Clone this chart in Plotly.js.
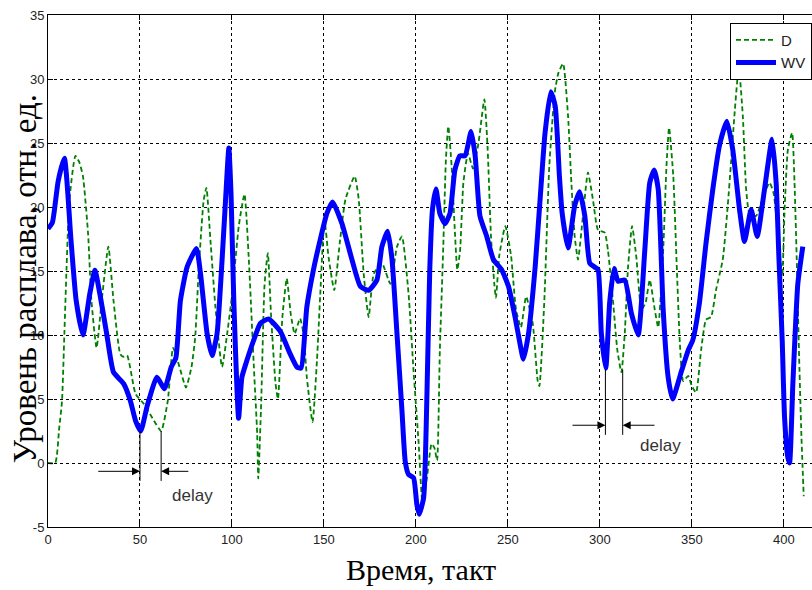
<!DOCTYPE html>
<html>
<head>
<meta charset="utf-8">
<script src="https://cdn.plot.ly/plotly-3.0.1.min.js"></script>
<style>html,body{margin:0;padding:0;background:#fff;}#chart{width:812px;height:590px;}</style>
</head>
<body>
<div id="chart"></div>
<script>
// Series WV (thick blue)
const wvX = [0,2.4,5.5,8.9,12.5,15.3,19,22.7,25.5,28.2,31.9,35.6,41.1,44.8,47.6,50.4,54,59.2,63.3,67,69.5,72,75.6,80.7,82.9,86.5,89.2,91.9,94.6,96.5,98.3,99.5,101,103.6,105.4,108.1,111.7,115.4,119.9,126.2,131.7,135.3,137.5,140.7,144.3,147.9,151.6,154.7,159.8,165.2,169.8,174.3,178.8,181.5,184.6,187,189.7,192.4,194.2,196,198.7,200.5,201.8,204.2,206,207.5,209,210.9,213,215.8,218.5,221.2,223.9,226.7,230,232.2,234.8,238.5,242.1,246.6,250.3,253.9,256.6,258.4,261.2,264.8,267.5,270.2,273.3,275.7,278,279.5,282.7,286.3,289,291.8,294.5,297.2,299,300.8,303.2,305.3,307.7,309.9,313.5,317.1,320.8,324.4,327.1,329.5,331.7,334.4,337.1,339.5,344.4,348,350.5,354.1,357.7,361.4,365,369,372.2,375.9,378.6,382.2,385.5,389.5,393.6,395.8,397.3,399.1,400.4,402.2,403.1,404.9,407.6,410.3];
const wvY = [18.3,18.8,22,23.8,17.4,12.7,10,13.2,15.05,13.2,10.1,7.1,6.2,4.85,3.3,2.5,4.5,6.7,5.8,7.5,8.2,12.7,15.3,16.75,14.8,10.1,8.4,10.1,15.8,20.5,24.6,21,12.7,3.5,6.7,8,9.55,10.9,11.25,10.3,8.5,7.5,7.4,12.2,15.1,17.4,19.5,20.4,18.7,15.9,13.8,13.5,14.3,16.9,18.1,15.9,10.1,4.1,0.1,-0.9,-1.15,-3.25,-4,-2.7,5.4,15,19.8,21.4,19.5,18.7,19.5,22.9,24,24,25.9,24,19.3,17.7,15.9,15.1,13.8,11.4,9.3,8.1,10.1,15.3,20.6,25.8,29,27.9,22.4,19.5,16.8,20.1,21.2,19.3,15.6,15.3,15.1,10.1,7.4,12.5,15.2,14.2,14.3,11.7,10,16.6,21.9,22.9,21.4,12,6.7,5,7.2,8.8,9.6,12.5,17.2,21.4,24.8,26.7,24.5,19.8,17.3,19.8,17.7,21.4,25.3,21.9,16.1,9.6,3.5,0.4,0,6.2,14,16.9];

// Series D (green dashed)
const dX = [0,3.9,6.1,7.6,8.9,10.1,11.6,14.9,17,19,21.8,23.6,26.4,29.2,32.8,35.6,39.3,41,43,47.6,52.2,56.8,61.5,65.1,68,71.5,75,78,80,82,84.6,86.1,88.3,91,94.6,97.4,100.1,103.7,106.8,109.2,111.9,113.7,114.3,115.9,117.7,119.5,121.3,123.7,125,127.4,129.8,132,134.1,137,139,140.7,143.8,146.2,148,150.3,152.5,155.6,158.6,161.7,166.7,168.9,171.6,174.3,177.1,181.5,186.1,189.7,192.4,196,198.7,201.5,203.6,206,208.5,210,211.5,213,214.8,216.3,217.6,219.4,221.2,222.5,224,225.8,228.3,231,234,237.2,239,240.8,242.6,243.5,245.3,248.6,251.7,254.4,257.1,259.9,263.5,266.2,267.1,269.8,272.5,275.5,277.5,280,282.7,284.5,286.3,288.1,290.8,293.5,296.2,299,302.6,304.4,307.1,309.5,311.7,313.5,315.3,317.5,319.8,322.6,324.8,327.1,329.8,331.7,334.4,336.2,337.6,339.9,341.8,343.5,345.3,348,350,352.3,355,357.7,360.4,363.1,366.8,369.5,371.3,373.1,375.5,377.7,379.5,381.3,384.9,387.6,392.2,394.4,396.7,399.1,400.4,402.2,404.5,405.8,407.1,408.2,409.5,410.8];
const dY = [0,0,2.75,4.8,10.1,15.3,20.5,24,23.5,22.4,17.9,12.7,9,12.7,16.9,12.7,8.5,8.3,8.4,5.4,4.6,3.5,2.5,4.85,9,7.5,5.9,7.5,9.8,15.3,20.5,21.5,17.4,12.2,7.5,10.1,13.2,18.5,21,15.8,7.5,2.3,-1.2,4.8,13.9,16.4,11.4,6.2,5,11.4,14.4,11.6,10.1,11.3,10,6.7,3.2,8,13.2,19,16.1,13.5,17.2,20.6,22.4,20.6,14.8,11.4,14.8,15.6,14,16.9,17.7,13.2,7.2,1.5,-3.2,-1.15,1.5,1.2,0.2,8.8,16.6,23.7,26.3,23.2,18,15.1,16.6,21.9,24.2,23,25,28.4,24.5,17.7,14,12.9,16.2,18.5,16.2,12,10.6,13,10.9,6.4,6,12.7,23.2,29,30.5,31.2,27.1,21.9,17.7,15.9,19.3,22.7,20.6,18.2,18,16.6,12.7,8.8,7.1,10.1,15.3,18.5,16.1,12,12.5,14.3,12,10.6,16.6,23.2,26.2,22.4,15.3,9.3,6.4,6.8,6,5.5,8.8,11.2,11.4,13.5,15.9,20.1,23.5,27.1,30.9,27.1,21.4,19.5,19.3,20.3,21.9,21.1,18,14.6,19.8,24.5,25.8,21.9,15.3,8.8,2.3,-2.6];

const seriesNames = ['D', 'WV'];
const xTicks = [0,50,100,150,200,250,300,350,400];
const yTicks = [-5,0,5,10,15,20,25,30,35];
const xTitle = 'Время, такт';
const yTitle = 'Уровень расплава, отн. ед.';
const delayLabel = 'delay';
// delay markers: [x of WV minimum, x of D minimum, y top, y bottom, arrow y, left tail x, right tail x, label x, label y]
const delays = [
  [50, 61.5, 2.5, -1.4, -0.65, 26.5, 77.1, 78.5, -2.55],
  [303, 312.4, 7.3, 2.2, 2.95, 284.3, 330.5, 332.7, 1.4]
];

const traces = [
  {x: dX, y: dY, name: seriesNames[0], type: 'scatter', mode: 'lines',
   line: {color: '#008000', width: 1.8, dash: '5px,3px', shape: 'spline', smoothing: 0.5}},
  {x: wvX, y: wvY, name: seriesNames[1], type: 'scatter', mode: 'lines',
   line: {color: '#0000ff', width: 5, shape: 'spline', smoothing: 0.5}}
];

const shapes = [];
const annotations = [];
delays.forEach(d => {
  [d[0], d[1]].forEach(xv => shapes.push({type: 'line', xref: 'x', yref: 'y', x0: xv, x1: xv, y0: d[2], y1: d[3], line: {color: '#000', width: 1}}));
  annotations.push({x: d[0], y: d[4], ax: d[5], ay: d[4], xref: 'x', yref: 'y', axref: 'x', ayref: 'y', text: '', showarrow: true, arrowhead: 2, arrowsize: 1.6, arrowwidth: 1, arrowcolor: '#000'});
  annotations.push({x: d[1], y: d[4], ax: d[6], ay: d[4], xref: 'x', yref: 'y', axref: 'x', ayref: 'y', text: '', showarrow: true, arrowhead: 2, arrowsize: 1.6, arrowwidth: 1, arrowcolor: '#000'});
  annotations.push({x: d[7], y: d[8], xref: 'x', yref: 'y', text: delayLabel, showarrow: false, font: {family: 'Liberation Sans, Arial, sans-serif', size: 17, color: '#333'}});
});
// y-axis title (placed over the tick labels as in the original)
annotations.push({xref: 'paper', yref: 'paper', x: 0, xshift: -23, y: 0.484, xanchor: 'center', yanchor: 'middle',
  textangle: -90, text: yTitle, showarrow: false, font: {family: 'Liberation Serif, Times New Roman, serif', size: 33, color: '#000'}});
// x-axis title
annotations.push({xref: 'paper', yref: 'paper', x: 0.5, xshift: -9, y: 0, yshift: -42, xanchor: 'center', yanchor: 'middle',
  text: xTitle, showarrow: false, font: {family: 'Liberation Serif, Times New Roman, serif', size: 30, color: '#000'}});

const tickFont = {family: 'Liberation Sans, Arial, sans-serif', size: 13, color: '#222'};

const layout = {
  width: 812, height: 590,
  margin: {l: 48, r: 0, t: 15, b: 63},
  paper_bgcolor: '#fff', plot_bgcolor: '#fff',
  showlegend: true,
  legend: {x: 1, xanchor: 'right', y: 0.985, yanchor: 'top', bgcolor: '#fff', bordercolor: '#000', borderwidth: 1,
           font: {family: 'Liberation Sans, Arial, sans-serif', size: 15, color: '#222'}, itemwidth: 40, tracegroupgap: 0},
  xaxis: {range: [0, 415.3], tickvals: xTicks, ticktext: xTicks.map(String), ticks: 'inside', ticklen: 5, tickcolor: '#000',
          showline: true, linecolor: '#000', linewidth: 1, mirror: 'ticks',
          showgrid: true, gridcolor: '#000', gridwidth: 1, griddash: '3px,3px', zeroline: false,
          tickfont: tickFont, automargin: false},
  yaxis: {range: [-5, 35], tickvals: yTicks, ticktext: yTicks.map(String), ticks: 'inside', ticklen: 5, tickcolor: '#000',
          showline: true, linecolor: '#000', linewidth: 1, mirror: false,
          showgrid: true, gridcolor: '#000', gridwidth: 1, griddash: '3px,3px', zeroline: false,
          tickfont: tickFont, automargin: false},
  shapes: shapes,
  annotations: annotations
};

Plotly.newPlot('chart', traces, layout, {displayModeBar: false, staticPlot: true});
</script>
</body>
</html>
